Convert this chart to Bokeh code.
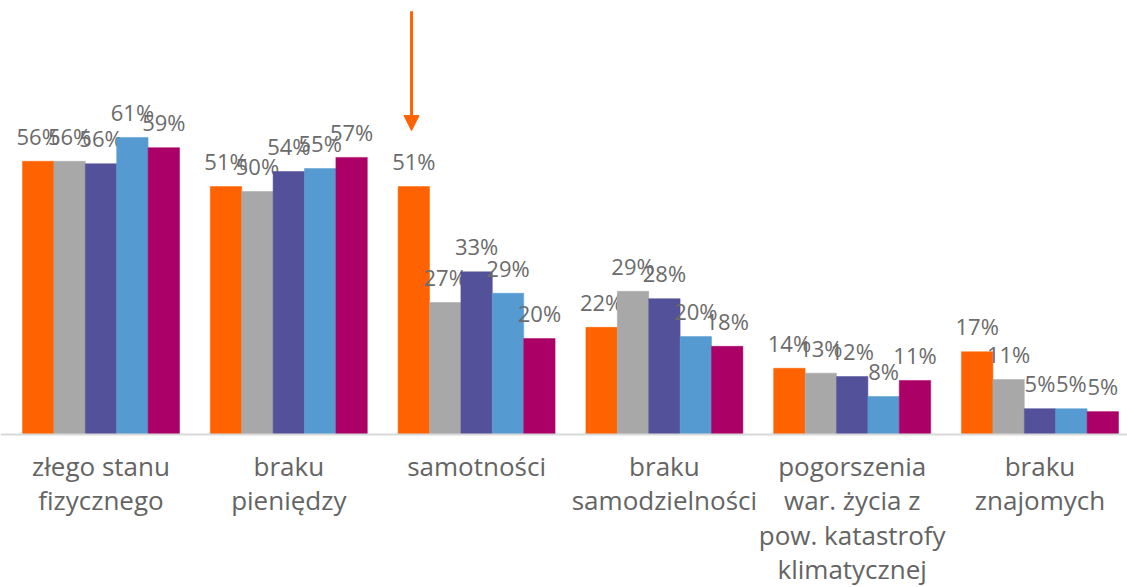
from bokeh.plotting import figure
from bokeh.models import ColumnDataSource, Span, Arrow, NormalHead, Range1d
from bokeh.core.properties import value
from bokeh.embed import file_html
from bokeh.resources import INLINE

categories = ["złego stanu\nfizycznego", "braku\npieniędzy", "samotności",
              "braku\nsamodzielności",
              "pogorszenia\nwar. życia z\npow. katastrofy\nklimatycznej",
              "braku\nznajomych"]
series_a = [56.1, 50.9, 50.9, 22.0, 13.6, 17.0]   # orange
series_b = [56.1, 49.9, 27.1, 29.4, 12.6, 11.3]   # gray
series_c = [55.6, 54.0, 33.4, 27.9, 11.9, 5.3]    # purple
series_d = [61.0, 54.6, 29.0, 20.1, 7.8, 5.3]     # blue
series_e = [58.9, 56.9, 19.7, 18.1, 11.1, 4.7]    # magenta
all_series = [series_a, series_b, series_c, series_d, series_e]
colors = ["#FF6200", "#A8A8A8", "#525199", "#559BD1", "#AB0066"]

W, H = 1127, 587
BASE_PX = 434
PX_PER_UNIT_X = 187.8
PX_PER_PCT = 4.87
x_start = -100.5 / PX_PER_UNIT_X
x_end = x_start + W / PX_PER_UNIT_X
y_end = BASE_PX / PX_PER_PCT
y_start = -(H - BASE_PX) / PX_PER_PCT

p = figure(width=W, height=H, output_backend="svg", toolbar_location=None,
           x_range=Range1d(x_start, x_end), y_range=Range1d(y_start, y_end),
           min_border=0, outline_line_color=None)
p.axis.visible = False
p.grid.visible = False
p.background_fill_color = "white"
p.border_fill_color = "white"

bw = 0.1672
font = value("Open Sans")
label_color = "#6b6b6b"
n = len(categories)
for i, (vals, col) in enumerate(zip(all_series, colors)):
    off = (i - 2) * bw
    xs = [k + off for k in range(n)]
    src = ColumnDataSource(dict(x=xs, top=vals,
                                ly=[v + 25.5 / PX_PER_PCT for v in vals],
                                lab=[f"{round(v):d}%" for v in vals]))
    p.vbar(x="x", top="top", bottom=0, width=bw, source=src,
           fill_color=col, line_color=col, line_width=0.5)
    p.text(x="x", y="ly", text="lab", source=src, text_font=font,
           text_font_size="22px", text_color=label_color,
           text_align="center", text_baseline="alphabetic")

p.add_layout(Span(location=0, dimension="width", line_color="#d9d9d9",
                  line_width=2))

cat_src = ColumnDataSource(dict(x=list(range(n)), y=[-(447 - BASE_PX) / PX_PER_PCT] * n,
                                t=categories))
p.text(x="x", y="y", text="t", source=cat_src, text_font=font,
       text_font_size="26px", text_color="#646464", text_align="center",
       text_baseline="top", text_line_height=0.96)

# arrow pointing at the first bar of "samotności"
ax = 2 + (0 - 2) * bw - 0.012
p.add_layout(Arrow(x_start=ax, y_start=series_a[2] + 36.0, x_end=ax,
                   y_end=series_a[2] + 11.5, line_color="#FF6200", line_width=3,
                   end=NormalHead(size=15, fill_color="#FF6200",
                                  line_color="#FF6200")))

open("out.html", "w").write(file_html(p, INLINE))
